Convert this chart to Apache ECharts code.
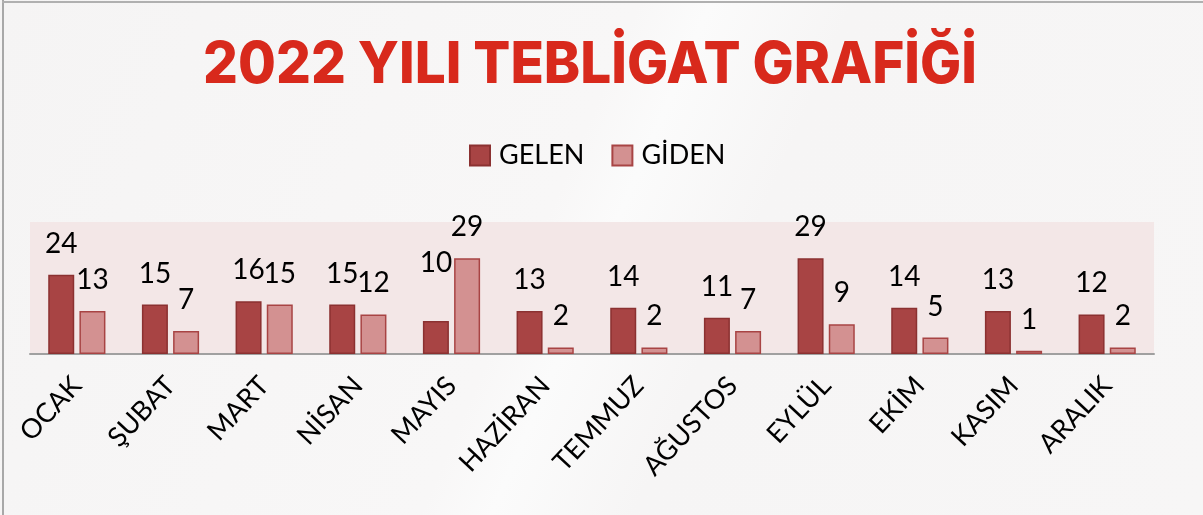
<!DOCTYPE html>
<html>
<head>
<meta charset="utf-8">
<script src="https://cdn.jsdelivr.net/npm/echarts@6/dist/echarts.min.js"></script>
<style>
html,body{margin:0;padding:0;background:#f6f5f5;}
#c{width:1203px;height:515px;}
</style>
</head>
<body>
<div id="c"></div>
<script>
const titleText = '2022 YILI TEBLİGAT GRAFİĞİ';
const months = ['OCAK','ŞUBAT','MART','NİSAN','MAYIS','HAZİRAN','TEMMUZ','AĞUSTOS','EYLÜL','EKİM','KASIM','ARALIK'];
const seriesNames = ['GELEN','GİDEN'];
const gelen = [24,15,16,15,10,13,14,11,29,14,13,12];
const giden = [13,7,15,12,29,2,2,7,9,5,1,2];

const chart = echarts.init(document.getElementById('c'));
const labelStyle = {show:true, position:'top', distance:17, color:'#000', fontSize:28, fontFamily:'Lato'};
chart.setOption({
  backgroundColor: {
    type:'linear', x:0, y:0, x2:1, y2:1,
    colorStops:[{offset:0,color:'#f5f4f4'},{offset:0.45,color:'#f8f7f7'},{offset:0.5,color:'#fbfbfb'},{offset:0.6,color:'#f6f5f5'},{offset:1,color:'#f7f6f6'}]
  },
  animation:false,
  legend:{
    top:137, left:464, itemWidth:20, itemHeight:20, itemGap:27, icon:'rect',
    textStyle:{color:'#000', fontSize:27, fontFamily:'Lato', padding:[0,0,0,4]},
    data:seriesNames
  },
  grid:{left:30, right:49, top:222, bottom:161, show:true, backgroundColor:'#f3e7e7', borderWidth:0},
  xAxis:{
    type:'category', data:months,
    axisLine:{show:true, lineStyle:{color:'#a0a0a0', width:2}},
    axisTick:{show:false},
    axisLabel:{rotate:47, margin:27, color:'#000', fontSize:27, fontFamily:'Lato', interval:0, padding:[16,0,0,0]}
  },
  yAxis:{type:'value', min:0, max:40, show:false, splitLine:{show:false}},
  series:[
    {name:seriesNames[0], type:'bar', barWidth:26, barGap:'20%',
     itemStyle:{color:'#a84444', borderColor:'#8b3131', borderWidth:1.5},
     label:labelStyle,
     data:gelen.map((v,i)=> i===4 ? {value:v, label:{distance:44}} : v)},
    {name:seriesNames[1], type:'bar', barWidth:26, barGap:'20%',
     itemStyle:{color:'#d39191', borderColor:'#a84444', borderWidth:1.5},
     label:labelStyle,
     data:giden}
  ],
  graphic:[
    {type:'text', x:590, y:37, scaleX:0.945, z:10,
     style:{text:titleText, textAlign:'center', textVerticalAlign:'top', fill:'#d8291c', font:'800 58px Inter'}},
    {type:'rect', shape:{x:2,y:0,width:2,height:515}, style:{fill:'#a8a8a8'}},
    {type:'rect', shape:{x:2,y:1,width:1201,height:2}, style:{fill:'#b0b0b0'}}
  ]
});
</script>
</body>
</html>
